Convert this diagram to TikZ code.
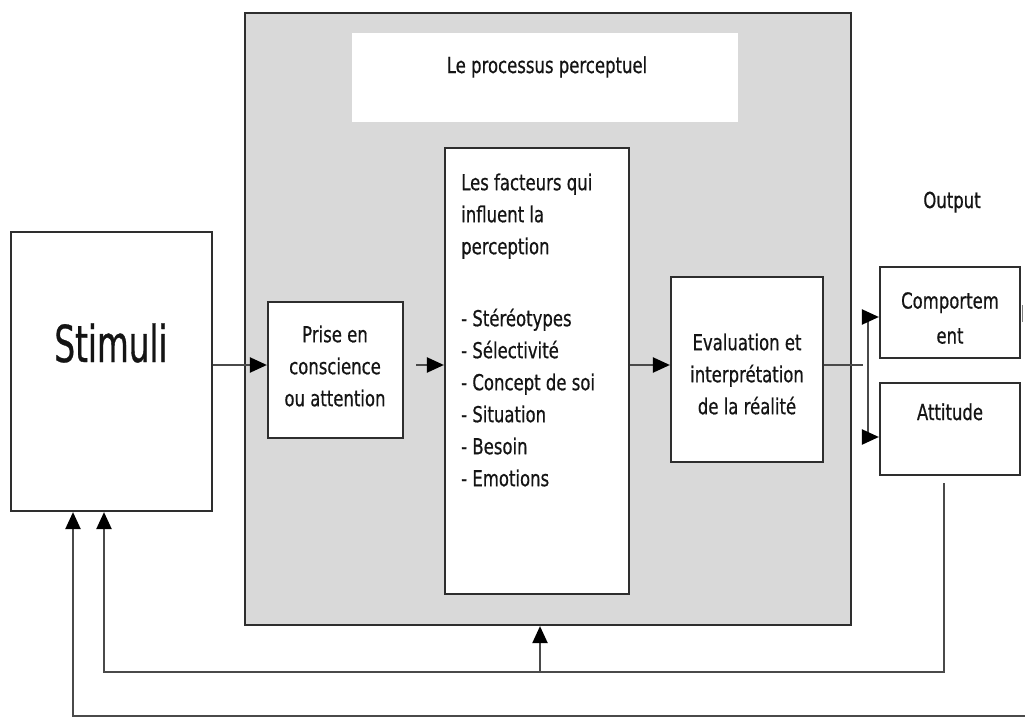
\documentclass[tikz,border=0pt]{standalone}
\usepackage{fontspec}
\setmainfont{DejaVu Sans}[FakeStretch=0.75,FakeBold=0.6]
\newfontfamily\stimfont{DejaVu Sans}[FakeStretch=0.64,FakeBold=0.6]
\usetikzlibrary{arrows.meta}
\definecolor{linec}{HTML}{2E2E2E}
\definecolor{fbc}{HTML}{4A4A4A}
\definecolor{grayc}{HTML}{D9D9D9}
\definecolor{textc}{HTML}{141414}
\tikzset{
  box/.style={draw=linec, line width=2.2pt, fill=white, rectangle, inner sep=0pt},
  ln/.style={draw=fbc, line width=2.2pt},
  arr/.style={ln, -{Triangle[length=17pt,width=15pt,color=black]}},
  txt/.style={font=\fontsize{22}{32}\selectfont, inner sep=0pt, text=textc},
}
\begin{document}
\begin{tikzpicture}[x=1pt,y=-1pt]
\useasboundingbox (0,0) rectangle (1025,720);
% main grey process box
\node[box, fill=grayc, minimum width=606pt, minimum height=612pt] (proc) at (548,319) {};
\node[fill=white, draw=none, minimum width=386pt, minimum height=89pt, inner sep=0pt] (titlebox) at (545,77.5) {};
\node[txt, anchor=base] (title) at (547,73) {Le processus perceptuel};
% boxes
\node[box, minimum width=201pt, minimum height=279pt] (stim) at (111.5,371.5) {};
\node[font=\stimfont\fontsize{51}{60}\selectfont, inner sep=0pt, text=textc, anchor=base] (stimtxt) at (111,362) {Stimuli};
\node[box, minimum width=135pt, minimum height=136pt] (prise) at (335.5,370) {};
\node[txt, align=center, anchor=north] (prisetxt) at (335,325.3) {Prise en\\conscience\\ou attention};
\node[box, minimum width=184pt, minimum height=446pt] (fact) at (537,371) {};
\node[txt, align=left, anchor=north west] (facttxt) at (461,173.3) {Les facteurs qui\\influent la\\perception\\[40pt]- Stéréotypes\\- Sélectivité\\- Concept de soi\\- Situation\\- Besoin\\- Emotions};
\node[box, minimum width=152pt, minimum height=185pt] (eval) at (747,369.5) {};
\node[txt, align=center, anchor=north] (evaltxt) at (747,333.3) {Evaluation et\\interprétation\\de la réalité};
\node[txt, anchor=base] (output) at (952,208) {Output};
\node[box, minimum width=140pt, minimum height=91pt] (comp) at (950,312.5) {};
\node[txt, font=\fontsize{22}{35}\selectfont, align=center, anchor=north] (comptxt) at (950,292) {Comportem\\ent};
\node[box, minimum width=140pt, minimum height=92pt] (att) at (950,429) {};
\node[txt, anchor=base] (atttxt) at (950,420) {Attitude};
% forward arrows
\coordinate (yarr) at (0,365);
\draw[arr] (stim.east |- yarr) -- (prise.west |- yarr);
\draw[arr, shorten <=12pt] (prise.east |- yarr) -- (fact.west |- yarr);
\draw[arr] (fact.east |- yarr) -- (eval.west |- yarr);
\coordinate (hx) at (863,365);
\coordinate (jt) at (868,317);
\coordinate (jb) at (868,437);
\draw[ln] (eval.east |- yarr) -- (hx);
\draw[ln] (jt) -- (jb);
\draw[arr] (jt) -- (jt -| comp.west);
\draw[arr] (jb) -- (jb -| att.west);
% stub at right
\coordinate (s1) at (1022,305);
\coordinate (s2) at (1022,322);
\draw[draw=gray, line width=0.8pt] (s1) -- (s2);
% feedback loops
\coordinate (f1a) at (944,483);
\coordinate (f1b) at (944,672);
\coordinate (f1c) at (104,672);
\draw[arr] (f1a) -- (f1b) -- (f1c) -- (f1c |- stim.south);
\coordinate (m) at (540,672);
\draw[arr] (m) -- (m |- proc.south);
\coordinate (b1) at (73,716);
\coordinate (b2) at (1025,716);
\draw[arr] (b2) -- (b1) -- (b1 |- stim.south);
\end{tikzpicture}
\end{document}
